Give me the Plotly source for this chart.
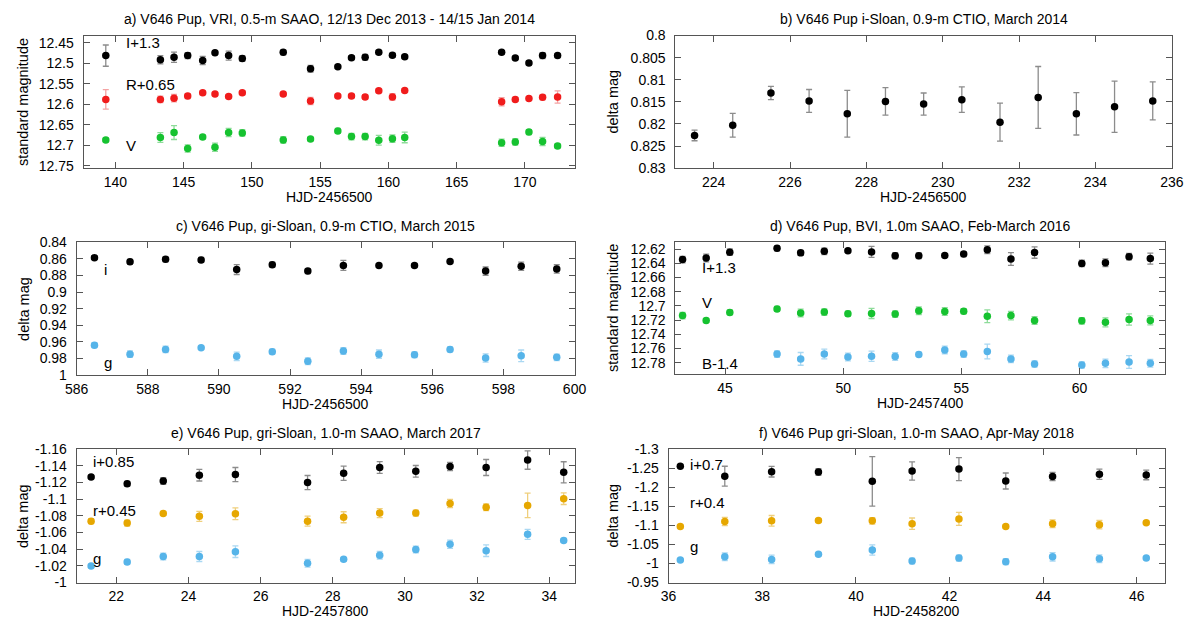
import plotly.graph_objects as go
from plotly.subplots import make_subplots

# ---- a) VRI, 0.5-m SAAO, Dec 2013 - Jan 2014 (HJD-2456500)
a_hjd = [139.3, 143.3, 144.3, 145.3, 146.4, 147.3, 148.3, 149.3, 152.3, 154.3, 156.3,
         157.3, 158.3, 159.3, 160.3, 161.2, 168.3, 169.3, 170.3, 171.3, 172.4]
a_I = [12.481, 12.491, 12.485, 12.481, 12.493, 12.474, 12.481, 12.488, 12.473, 12.513, 12.508,
       12.486, 12.485, 12.473, 12.480, 12.484, 12.473, 12.487, 12.499, 12.481, 12.481]
a_I_err = [0.026, 0.010, 0.0125, 0.007, 0.010, 0.005, 0.011, 0.007, 0.006, 0.008, 0.004,
           0.005, 0.007, 0.005, 0.005, 0.004, 0.004, 0.004, 0.005, 0.007, 0.005]
a_R = [12.588, 12.588, 12.585, 12.580, 12.572, 12.575, 12.581, 12.572, 12.575, 12.592, 12.580,
       12.580, 12.582, 12.567, 12.582, 12.566, 12.594, 12.588, 12.586, 12.583, 12.582]
a_R_err = [0.024, 0.008, 0.009, 0.006, 0.005, 0.004, 0.004, 0.005, 0.005, 0.009, 0.004,
           0.005, 0.005, 0.005, 0.008, 0.004, 0.010, 0.005, 0.004, 0.006, 0.015]
a_V = [12.687, 12.681, 12.669, 12.708, 12.680, 12.705, 12.669, 12.670, 12.687, 12.685, 12.665,
       12.679, 12.679, 12.688, 12.684, 12.681, 12.694, 12.692, 12.668, 12.691, 12.702]
a_V_err = [0.005, 0.012, 0.017, 0.009, 0.005, 0.010, 0.010, 0.008, 0.008, 0.005, 0.006,
           0.008, 0.008, 0.012, 0.009, 0.013, 0.009, 0.008, 0.006, 0.010, 0.005]

# ---- b) i-Sloan, 0.9-m CTIO, March 2014 (HJD-2456500)
b_hjd = [223.5, 224.5, 225.5, 226.5, 227.5, 228.5, 229.5, 230.5, 231.5, 232.5, 233.5, 234.5, 235.5]
b_i = [0.8226, 0.8203, 0.8130, 0.8148, 0.8177, 0.8149, 0.8155, 0.8145, 0.8196, 0.8140, 0.8177,
       0.8161, 0.8148]
b_i_err = [0.0012, 0.0027, 0.0015, 0.0026, 0.0053, 0.0031, 0.0025, 0.0029, 0.0043, 0.0070,
           0.0048, 0.0058, 0.0043]

# ---- c) gi-Sloan, 0.9-m CTIO, March 2015 (HJD-2456500)
c_hjd = [586.5, 587.5, 588.5, 589.5, 590.5, 591.5, 592.5, 593.5, 594.5, 595.5, 596.5, 597.5,
         598.5, 599.5]
c_i = [0.8585, 0.8635, 0.8604, 0.8612, 0.8728, 0.8670, 0.8747, 0.8678, 0.8678, 0.8678, 0.8631,
       0.8747, 0.8689, 0.8720]
c_i_err = [0.002, 0.003, 0.003, 0.003, 0.006, 0.003, 0.003, 0.006, 0.002, 0.002, 0.002, 0.005,
           0.005, 0.005]
c_g = [0.9641, 0.9749, 0.9692, 0.9672, 0.9776, 0.9719, 0.9834, 0.9711, 0.9749, 0.9757, 0.9692,
       0.9796, 0.9769, 0.9788]
c_g_err = [0.003, 0.004, 0.004, 0.002, 0.005, 0.003, 0.004, 0.004, 0.005, 0.0035, 0.003, 0.005,
           0.007, 0.004]

# ---- d) BVI, 1.0m SAAO, Feb-March 2016 (HJD-2457400)
d_hjd = [43.2, 44.2, 45.2, 47.2, 48.2, 49.2, 50.2, 51.2, 52.2, 53.2, 54.3, 55.1, 56.1, 57.1,
         58.1, 60.1, 61.1, 62.1, 63.0]
d_I = [12.6349, 12.6326, 12.6245, 12.6191, 12.6254, 12.6232, 12.6223, 12.6241, 12.6295, 12.6295,
       12.6290, 12.6272, 12.6209, 12.6340, 12.6250, 12.6403, 12.6394, 12.6308, 12.6335]
d_I_err = [0.0045, 0.0054, 0.0045, 0.0036, 0.0036, 0.0045, 0.0027, 0.0077, 0.0045, 0.0040,
           0.0023, 0.0036, 0.0054, 0.0090, 0.0080, 0.0045, 0.0054, 0.0045, 0.0077]
d_V = [12.7137, 12.7205, 12.7092, 12.7043, 12.7101, 12.7088, 12.7110, 12.7106, 12.7115, 12.7070,
       12.7079, 12.7075, 12.7146, 12.7137, 12.7205, 12.7210, 12.7232, 12.7192, 12.7205]
d_V_err = [0.0045, 0.0030, 0.0036, 0.0036, 0.0054, 0.0045, 0.0036, 0.0072, 0.0045, 0.0054,
           0.0054, 0.0036, 0.0090, 0.0060, 0.0054, 0.0045, 0.0063, 0.0080, 0.0063]
d_hjd_B = [47.2, 48.2, 49.2, 50.2, 51.2, 52.2, 53.2, 54.3, 55.1, 56.1, 57.1, 58.1, 60.1, 61.1,
           62.1, 63.0]
d_B = [12.7678, 12.7746, 12.7678, 12.7719, 12.7710, 12.7714, 12.7683, 12.7620, 12.7678, 12.7642,
       12.7746, 12.7818, 12.7832, 12.7809, 12.7791, 12.7809]
d_B_err = [0.0045, 0.0090, 0.0068, 0.0054, 0.0072, 0.0054, 0.0030, 0.0054, 0.0045, 0.0104,
           0.0054, 0.0045, 0.0045, 0.0060, 0.0090, 0.0054]

# ---- e) gri-Sloan, 1.0-m SAAO, March 2017 (HJD-2457800)
e_hjd = [21.3, 22.3, 23.3, 24.3, 25.3, 27.3, 28.3, 29.3, 30.3, 31.25, 32.25, 33.4, 34.4]
e_i = [-1.1265, -1.1184, -1.1218, -1.1288, -1.1295, -1.1199, -1.1311, -1.1380, -1.1334, -1.1392,
       -1.1380, -1.1469, -1.1322]
e_i_err = [0.002, 0.003, 0.004, 0.007, 0.0085, 0.0085, 0.0085, 0.007, 0.007, 0.005, 0.0096,
           0.011, 0.0127]
e_r = [-1.0736, -1.0713, -1.0829, -1.0794, -1.0825, -1.0736, -1.0783, -1.0833, -1.0833, -1.0948,
       -1.0902, -1.0925, -1.1006]
e_r_err = [0.003, 0.0035, 0.0023, 0.006, 0.007, 0.006, 0.0066, 0.0054, 0.0035, 0.005, 0.004,
           0.0147, 0.007]
e_g = [-1.0197, -1.0247, -1.0312, -1.0312, -1.0370, -1.0231, -1.0278, -1.0328, -1.0397, -1.0459,
       -1.0382, -1.0578, -1.0505]
e_g_err = [0.002, 0.003, 0.004, 0.006, 0.007, 0.0046, 0.0023, 0.0046, 0.004, 0.005, 0.007,
           0.006, 0.0023]

# ---- f) gri-Sloan, 1.0-m SAAO, Apr-May 2018 (HJD-2458200)
f_hjd = [36.25, 37.2, 38.2, 39.2, 40.35, 41.2, 42.2, 43.2, 44.2, 45.2, 46.2]
f_i = [-1.2553, -1.2292, -1.2410, -1.2401, -1.2157, -1.2427, -1.2477, -1.2165, -1.2283, -1.2342,
       -1.2325]
f_i_err = [0.003, 0.026, 0.014, 0.009, 0.065, 0.024, 0.030, 0.021, 0.011, 0.0135, 0.0127]
f_r = [-1.0967, -1.1102, -1.1119, -1.1128, -1.1119, -1.1043, -1.1170, -1.0967, -1.1043, -1.1018,
       -1.1069]
f_r_err = [0.004, 0.011, 0.014, 0.005, 0.0085, 0.015, 0.017, 0.004, 0.010, 0.011, 0.004]
f_g = [-1.0090, -1.0175, -1.0107, -1.0242, -1.0352, -1.0065, -1.0141, -1.0048, -1.0175, -1.0124,
       -1.0141]
f_g_err = [0.004, 0.010, 0.011, 0.004, 0.0135, 0.0076, 0.0076, 0.0076, 0.011, 0.010, 0.004]

W, H = 1200, 629
FONT = "Liberation Sans, Arial, Helvetica, sans-serif"

# colours: (marker, error bar)
BLACK = ("#000000", "#8c8c8c")
RED = ("#f01c1c", "#f4a3a3")
GREEN = ("#16c230", "#8edc9a")
BLUE = ("#56b4e9", "#aad8f2")
ORANGE = ("#e6a700", "#efcf7c")

# panel frames in pixels: left, right, top, bottom
frames = [
    (73, 574, 28.3, 164.3),
    (677, 1183.5, 28.3, 164.3),
    (66, 574, 240.5, 376.5),
    (677, 1176.5, 240.0, 376.0),
    (66, 574, 452.7, 589.5),
    (670, 1176.5, 452.7, 589.5),
]

titles = [
    "a) V646 Pup, VRI, 0.5-m SAAO, 12/13 Dec 2013 - 14/15 Jan 2014",
    "b) V646 Pup i-Sloan, 0.9-m CTIO, March 2014",
    "c) V646 Pup, gi-Sloan, 0.9-m CTIO, March 2015",
    "d) V646 Pup, BVI, 1.0m SAAO, Feb-March 2016",
    "e) V646 Pup, gri-Sloan, 1.0-m SAAO, March 2017",
    "f) V646 Pup gri-Sloan, 1.0-m SAAO, Apr-May 2018",
]
xtitles = ["HJD-2456500", "HJD-2456500", "HJD-2456500", "HJD-2457400", "HJD-2457800",
           "HJD-2458200"]
ytitles = ["standard magnitude", "delta mag", "delta mag", "standard magnitude", "delta mag",
           "delta mag"]

# axis ranges (y reversed: [bottom, top])
xranges = [[137.67, 173.64], [223, 236], [586, 600], [42.9, 63.62], [20.9, 34.7], [36, 46.6]]
yranges = [[12.756, 12.432], [0.83, 0.80], [1.0, 0.84], [12.7965, 12.61], [-1.0, -1.16],
           [-0.95, -1.3]]
xticks = [(140, 170, 5), (224, 236, 2), (586, 600, 2), (45, 60, 5), (22, 34, 2), (36, 46, 2)]
yticks = [(12.45, 12.75, 0.05), (0.80, 0.83, 0.005), (0.84, 1.0, 0.02), (12.62, 12.78, 0.02),
          (-1.16, -1.0, 0.02), (-1.30, -0.95, 0.05)]


def tick_list(start, stop, step):
    n = int(round((stop - start) / step))
    vals = [round(start + k * step, 4) for k in range(n + 1)]
    return vals, [f"{v:g}" for v in vals]


fig = make_subplots(rows=3, cols=2)


def add_series(row, col, x, y, err, colours):
    fig.add_trace(go.Scatter(
        x=x, y=y, mode="markers",
        marker=dict(color=colours[0], size=7.5),
        error_y=dict(type="data", array=err, color=colours[1], thickness=1.3, width=3),
        showlegend=False,
    ), row=row, col=col)


add_series(1, 1, a_hjd, a_I, a_I_err, BLACK)
add_series(1, 1, a_hjd, a_R, a_R_err, RED)
add_series(1, 1, a_hjd, a_V, a_V_err, GREEN)

add_series(1, 2, b_hjd, b_i, b_i_err, BLACK)

add_series(2, 1, c_hjd, c_i, c_i_err, BLACK)
add_series(2, 1, c_hjd, c_g, c_g_err, BLUE)

add_series(2, 2, d_hjd, d_I, d_I_err, BLACK)
add_series(2, 2, d_hjd, d_V, d_V_err, GREEN)
add_series(2, 2, d_hjd_B, d_B, d_B_err, BLUE)

add_series(3, 1, e_hjd, e_i, e_i_err, BLACK)
add_series(3, 1, e_hjd, e_r, e_r_err, ORANGE)
add_series(3, 1, e_hjd, e_g, e_g_err, BLUE)

add_series(3, 2, f_hjd, f_i, f_i_err, BLACK)
add_series(3, 2, f_hjd, f_r, f_r_err, ORANGE)
add_series(3, 2, f_hjd, f_g, f_g_err, BLUE)

axis_style = dict(
    showline=True, mirror="ticks", linecolor="#555555", linewidth=1,
    ticks="inside", ticklen=6, tickcolor="#555555", tickwidth=1,
    showgrid=False, zeroline=False,
    tickfont=dict(family=FONT, size=14, color="#000000"),
)

annotations = []
for k in range(6):
    left, right, top, bottom = frames[k]
    suffix = "" if k == 0 else str(k + 1)
    xv, xt = tick_list(*xticks[k])
    yv, yt = tick_list(*yticks[k])
    fig.layout["xaxis" + suffix].update(
        domain=[left / W, right / W], range=xranges[k],
        tickvals=xv, ticktext=xt, ticklabelstandoff=1, **axis_style)
    fig.layout["yaxis" + suffix].update(
        domain=[1 - bottom / H, 1 - top / H], range=yranges[k],
        tickvals=yv, ticktext=yt, ticklabelstandoff=6, **axis_style)

    cx = (left + right) / 2 / W
    annotations.append(dict(text=titles[k], x=cx, y=1 - (top - 16.5) / H, xref="paper",
                            yref="paper", showarrow=False, xanchor="center", yanchor="middle",
                            font=dict(family=FONT, size=14, color="#000000")))
    annotations.append(dict(text=xtitles[k], x=cx, y=1 - (bottom + 29.5) / H, xref="paper",
                            yref="paper", showarrow=False, xanchor="center", yanchor="middle",
                            font=dict(family=FONT, size=14, color="#000000")))
    ytx = 11.5 if k % 2 == 0 else 613
    annotations.append(dict(text=ytitles[k], x=ytx / W, y=1 - (top + bottom) / 2 / H,
                            xref="paper", yref="paper", showarrow=False, textangle=-90,
                            xanchor="center", yanchor="middle",
                            font=dict(family=FONT, size=14.5, color="#000000")))

# series labels inside panels (data coordinates)
labels = [
    ("x", "y", 140.6, 12.450, "I+1.3"),
    ("x", "y", 140.6, 12.552, "R+0.65"),
    ("x", "y", 140.6, 12.700, "V"),
    ("x3", "y3", 586.7, 0.8728, "i"),
    ("x3", "y3", 586.7, 0.9846, "g"),
    ("x4", "y4", 43.93, 12.646, "I+1.3"),
    ("x4", "y4", 43.93, 12.695, "V"),
    ("x4", "y4", 43.93, 12.781, "B-1.4"),
    ("x5", "y5", 21.3, -1.1456, "i+0.85"),
    ("x5", "y5", 21.3, -1.087, "r+0.45"),
    ("x5", "y5", 21.3, -1.0286, "g"),
    ("x6", "y6", 36.42, -1.2587, "i+0.7"),
    ("x6", "y6", 36.42, -1.159, "r+0.4"),
    ("x6", "y6", 36.42, -1.0453, "g"),
]
for xr, yr, lx, ly, txt in labels:
    annotations.append(dict(text=txt, x=lx, y=ly, xref=xr, yref=yr, showarrow=False,
                            xanchor="left", yanchor="middle",
                            font=dict(family=FONT, size=15, color="#000000")))

fig.update_layout(
    width=W, height=H,
    margin=dict(l=0, r=0, t=0, b=0),
    paper_bgcolor="white", plot_bgcolor="white",
    font=dict(family=FONT, size=14, color="#000000"),
    annotations=annotations,
    showlegend=False,
)

# the page body has a default 8px margin; drop it so the figure sits at the window corner
fig.write_html("out.html", config={"displayModeBar": False},
               post_script="document.body.style.margin = '0';")
